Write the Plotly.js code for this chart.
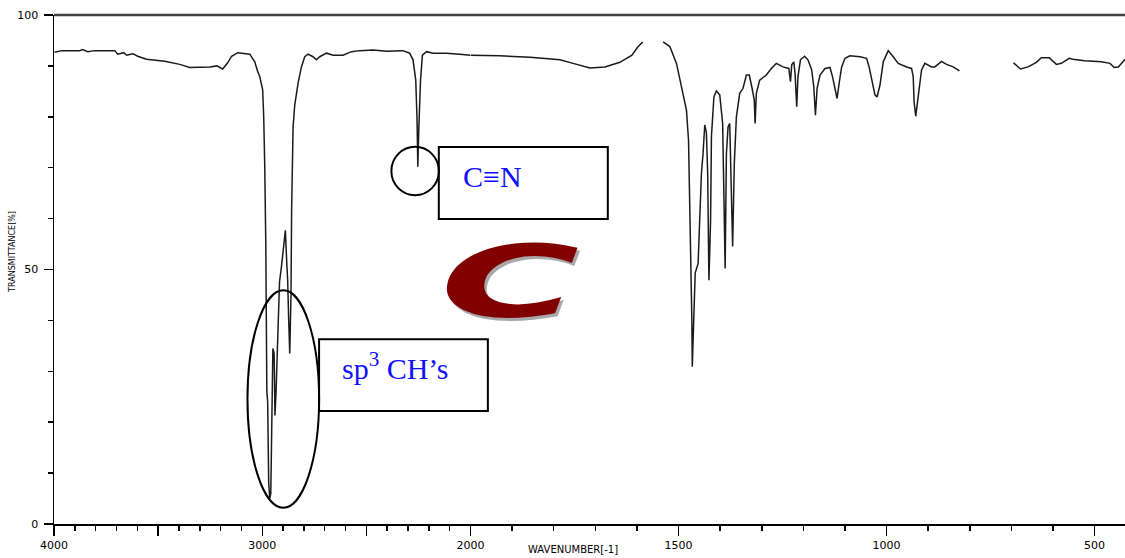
<!DOCTYPE html>
<html><head><meta charset="utf-8">
<script src="https://cdn.plot.ly/plotly-3.0.1.min.js"></script>
<style>
html,body{margin:0;padding:0;background:#fff;}
#chart{width:1125px;height:558px;}
.annotation[data-index="4"] .annotation-text{transform-box:fill-box;transform-origin:center;transform:scaleX(1.9);}
</style></head><body><div id="chart"></div>
<script>
// IR spectrum
const wavenumber = [
 3997,3963,3877,3862,3838,3805,3708,3694,3665,3651,3622,3598,3556,3468,3396,3348,3252,3218,3190,3166,
 3147,3118,3060,3036,3022,3012,2998,2993,2988,2983,2978,2974,2969,2964,2959,2953,2949,2943,2939,2934,
 2928,2924,2917,2908,2900,2893,2889,2882,2878,2873,2868,2862,2859,2852,2844,2828,2812,2796,2780,2756,
 2740,2724,2692,2660,2612,2572,2532,2468,2403,2324,2292,2276,2263,2257,2253,2248,2240,2231,2211,2180,
 2116,2052,2000,1978,1930,1857,1785,1749,1713,1677,1641,1612,1598,1586,1560,1537,1521,1505,1489,1481,
 1476,1472,1468,1467,1464,1460,1453,1449,1445,1441,1437,1433,1430,1427,1423,1421,1415,1409,1401,1394,
 1391,1388,1385,1381,1377,1373,1370,1366,1361,1353,1345,1337,1330,1324,1318,1316,1313,1305,1289,1277,
 1265,1249,1235,1231,1228,1223,1220,1216,1213,1207,1197,1189,1180,1175,1171,1167,1160,1148,1136,1130,
 1124,1119,1114,1108,1100,1088,1064,1048,1042,1035,1028,1023,1016,1008,996,984,972,952,940,936,
 934,930,926,920,916,908,892,884,868,856,840,825,760,695,678,660,640,628,609,592,
 580,561,552,524,484,463,453,443,427
];
const transmittance = [
 92.7,93.0,93.0,93.2,92.8,93.0,93.0,92.3,92.6,92.1,92.4,91.9,91.3,90.9,90.3,89.7,89.8,90.0,89.4,90.6,
 91.9,92.6,92.3,90.8,88.9,87.9,85.3,80.0,70.2,55,26,24,8,5.0,6,25.7,34.5,33.5,21.3,25.7,
 34.5,35.5,47.6,50.5,53.8,56,57.7,51,48,40,33.5,45,61.7,78,82.3,86.6,89.8,91.8,92.3,91.8,
 91.2,91.8,92.5,92.1,92.1,92.8,93.0,93.1,92.9,93.0,92.5,91.2,87.2,79.8,70.2,78,87.2,92.1,92.8,92.5,
 92.5,92.3,92.1,92.1,92.0,91.7,91.2,90.4,89.6,89.8,90.7,92.1,93.7,94.7,null,94.7,93.8,90.5,84.6,81.3,
 75.4,60.3,40,30.9,40.7,49.3,51.2,59.7,68.9,72.9,78.4,76.8,68.9,47.9,59.7,76.1,83.9,85.1,84.3,78.7,
 60.3,50.2,72.8,78,78.7,60.3,54.5,70.8,80,84.6,85.6,88.2,88.2,85.9,83.3,78.7,84.6,87.2,88.2,89.5,
 90.5,89.8,89.5,86.9,90.2,90.8,88.5,82,87.9,91.2,91.9,91.2,89.2,85.9,80.3,85.6,88.2,89.5,89.7,87.9,
 85.3,83.6,86.6,89.8,91.5,92.0,91.8,91.5,89.8,87.2,84.3,83.9,86.2,90.8,93.0,91.8,90.5,89.8,89.5,87.9,
 83,80.1,82.6,87.2,89.2,90.5,89.8,89.8,90.9,90.3,89.8,89.0,null,90.6,89.4,89.8,90.7,91.6,91.6,90.3,
 90.5,91.5,91.3,91.0,90.8,90.5,89.7,89.8,91.3
];
const scaleBreak = 2000;
const lowTickVals = [1500,1000,500];
const lowTickText = ['1500','1000','500'];
const yTickVals = [0,50,100];
const yTickText = ['0','50','100'];
const yTitle = 'TRANSMITTANCE[%]';
const xTitle = 'WAVENUMBER[-1]';
const labelCN = 'C\u2261N';
const labelCH = 'sp<sup>3</sup> CH\u2019s';
const logoText = 'C';

const hx=[],hy=[],lx=[],ly=[];
wavenumber.forEach((w,i)=>{
  if(w>=scaleBreak){hx.push(w);hy.push(transmittance[i]);}
  if(w<=scaleBreak){lx.push(w);ly.push(transmittance[i]);}
});

const lineStyle={color:'#1a1a1a',width:1.5};
const traces=[
 {x:hx,y:hy,xaxis:'x',yaxis:'y',mode:'lines',line:lineStyle,connectgaps:false,hoverinfo:'skip'},
 {x:lx,y:ly,xaxis:'x2',yaxis:'y',mode:'lines',line:lineStyle,connectgaps:false,hoverinfo:'skip'}
];
const tickFont={family:'DejaVu Sans',size:11,color:'#000'};
const split=0.3889;
const axisBase={anchor:'y',showline:true,linecolor:'#000',linewidth:1.5,
  ticks:'outside',ticklen:10,tickwidth:1.5,tickcolor:'#000',
  tickfont:tickFont,showgrid:false,zeroline:false,fixedrange:true,
  minor:{tickmode:'linear',tick0:0,dtick:100,ticks:'outside',ticklen:5,tickwidth:1.5,tickcolor:'#000',showgrid:false}};
const layout={
  width:1125,height:558,margin:{l:54,r:0,t:15,b:34},showlegend:false,
  paper_bgcolor:'#fff',plot_bgcolor:'#fff',
  xaxis:Object.assign({},axisBase,{domain:[0,split],range:[4000,2000],tickmode:'linear',tick0:0,dtick:500,ticklabelstep:2}),
  xaxis2:Object.assign({},axisBase,{domain:[split,1],range:[2000,427],tickmode:'array',tickvals:lowTickVals,ticktext:lowTickText}),
  yaxis:{domain:[0,1],range:[0,100],anchor:'x',showline:true,linecolor:'#000',linewidth:1.5,
    ticks:'outside',ticklen:9,tickwidth:1.5,tickcolor:'#000',tickmode:'array',tickvals:yTickVals,ticktext:yTickText,
    ticklabelstandoff:3,
    tickfont:tickFont,showgrid:false,zeroline:false,fixedrange:true,
    minor:{tickmode:'linear',tick0:0,dtick:10,ticks:'outside',ticklen:5,tickwidth:1.5,tickcolor:'#000',showgrid:false}},
  shapes:[
    {type:'line',xref:'paper',yref:'paper',x0:0,x1:1,y0:1,y1:1,line:{color:'#444',width:2.5}},
    {type:'circle',xref:'x',yref:'y',x0:2380,x1:2152,y0:64.6,y1:74.1,line:{color:'#000',width:2}},
    {type:'rect',xref:'paper',yref:'paper',x0:0.3593,x1:0.5171,y0:0.599,y1:0.7405,line:{color:'#000',width:2},fillcolor:'rgba(0,0,0,0)'},
    {type:'circle',xref:'x',yref:'y',x0:3071,x1:2727,y0:3.2,y1:45.9,line:{color:'#000',width:2}},
    {type:'rect',xref:'paper',yref:'paper',x0:0.2475,x1:0.4051,y0:0.2221,y1:0.3631,line:{color:'#000',width:2},fillcolor:'rgba(0,0,0,0)'}
  ],
  annotations:[
    {text:yTitle,xref:'paper',yref:'paper',x:-0.0395,y:0.534,xanchor:'center',yanchor:'middle',textangle:-90,showarrow:false,font:{family:'DejaVu Sans',size:8,color:'#000'}},
    {text:xTitle,xref:'paper',yref:'paper',x:0.4845,y:-0.0497,xanchor:'center',yanchor:'middle',showarrow:false,font:{family:'DejaVu Sans',size:10,color:'#000'}},
    {text:labelCN,xref:'paper',yref:'paper',x:0.3798,y:0.6825,xanchor:'left',yanchor:'middle',showarrow:false,font:{family:'Liberation Serif',size:30,color:'#1010ff'}},
    {text:labelCH,xref:'paper',yref:'paper',x:0.2668,y:0.31,xanchor:'left',yanchor:'middle',showarrow:false,font:{family:'Liberation Serif',size:30,color:'#1010ff'}},
    {text:logoText,xref:'paper',yref:'paper',x:0.4256,y:0.475,xanchor:'center',yanchor:'middle',showarrow:false,
      font:{family:'DejaVu Sans',size:100,color:'#800000',weight:'bold',style:'italic',shadow:'2px 4px 0px #a8a8a8'}}
  ]
};
Plotly.newPlot('chart',traces,layout,{staticPlot:true,displayModeBar:false});
</script></body></html>
